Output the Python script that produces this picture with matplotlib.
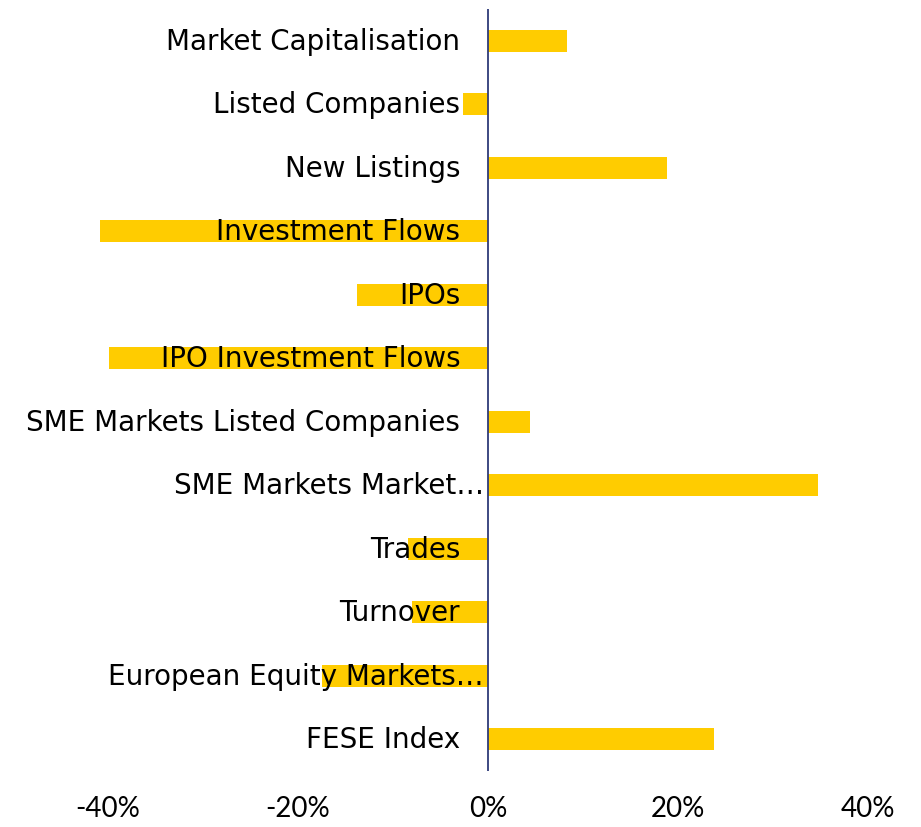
import matplotlib.pyplot as plt
import numpy as np

categories = [
    "Market Capitalisation",
    "Listed Companies",
    "New Listings",
    "Investment Flows",
    "IPOs",
    "IPO Investment Flows",
    "SME Markets Listed Companies",
    "SME Markets Market…",
    "Trades",
    "Turnover",
    "European Equity Markets…",
    "FESE Index",
]
changes = [8.3, -2.6, 18.8, -40.8, -13.8, -39.9, 4.4, 34.7, -8.4, -8.0, -17.5, 23.8]
ticks = [-40, -20, 0, 20, 40]
tick_labels = ["-40%", "-20%", "0%", "20%", "40%"]

fig = plt.figure(figsize=(9.21, 8.28), dpi=100)
ax = fig.add_axes([89 / 921, 1 - 772 / 828, 779 / 921, 762 / 828])

y = np.arange(len(categories))
ax.barh(y, changes, height=0.35, color="#FFCC00", zorder=1)
ax.axvline(0, color="#2E3A78", linewidth=1.3, zorder=3)

ax.set_xlim(-42, 40)
ax.set_ylim(len(categories) - 0.5, -0.5)
ax.set_xticks(ticks)
ax.set_xticklabels(tick_labels, fontsize=20, family="Lato")
ax.tick_params(axis="x", length=0, pad=17)
ax.set_yticks([])
for s in ax.spines.values():
    s.set_visible(False)

# category labels sit just left of the zero line, over the bars
for yi, name in zip(y, categories):
    off = -3 if name.endswith("…") else -20
    ax.annotate(name, xy=(0, yi), xytext=(off, 0), textcoords="offset points",
                ha="right", va="center", fontsize=20, family="DejaVu Sans",
                color="black", zorder=4)

fig.savefig("out.png", dpi=100)
